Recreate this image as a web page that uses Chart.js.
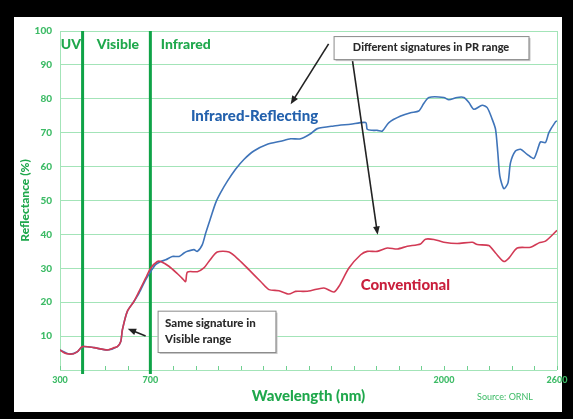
<!DOCTYPE html>
<html lang="en">
<head>
<meta charset="UTF-8">
<title>Reflectance vs wavelength</title>
<script src="https://cdn.jsdelivr.net/npm/chart.js"></script>
<style>
  html, body { margin: 0; padding: 0; background: #000; }
  #wrap { position: relative; width: 573px; height: 419px; overflow: hidden; }
  #paper { position: absolute; left: 14px; top: 17px; width: 548px; height: 395px; background: #fff; }
  #chart { position: absolute; left: 0; top: 0; }
</style>
</head>
<body>
<div id="wrap">
  <div id="paper"></div>
  <canvas id="chart" width="573" height="419"></canvas>
</div>

<script>
// conventional coating (red)
const convWavelength = [300, 320, 340, 360, 377, 399, 450, 510, 540, 554, 569, 576, 598, 627, 650, 679, 702, 731, 746, 782, 820, 840, 856, 864, 908, 937, 959, 996, 1048, 1092, 1136, 1188, 1225, 1269, 1313, 1343, 1377, 1409, 1468, 1512, 1535, 1579, 1631, 1660, 1704, 1749, 1793, 1837, 1896, 1918, 1955, 1999, 2058, 2125, 2147, 2198, 2228, 2265, 2287, 2324, 2383, 2420, 2449, 2500];
const convReflect    = [5.9, 5.0, 4.7, 4.8, 5.4, 6.9, 6.6, 5.9, 6.6, 6.9, 8.4, 11.8, 17.3, 20.2, 23.2, 27.1, 30.1, 32.0, 32.0, 30.6, 28.4, 27.1, 26.1, 28.9, 29.0, 30.1, 32.0, 34.8, 34.8, 32.5, 29.6, 26.1, 23.7, 23.4, 22.4, 23.2, 23.2, 23.4, 24.2, 23.0, 24.7, 30.1, 34.0, 35.0, 35.0, 36.0, 35.7, 36.5, 37.2, 38.6, 38.5, 37.7, 37.3, 37.7, 37.0, 36.7, 34.5, 32.0, 33.0, 36.0, 36.2, 37.5, 38.0, 41.2];

// infrared-reflecting coating (blue)
const irWavelength = [300, 340, 377, 399, 450, 510, 554, 569, 576, 598, 627, 650, 679, 702, 723, 746, 768, 797, 827, 849, 864, 893, 908, 930, 945, 967, 989, 1011, 1041, 1077, 1114, 1158, 1218, 1277, 1321, 1365, 1409, 1439, 1512, 1586, 1653, 1660, 1682, 1704, 1727, 1756, 1808, 1852, 1888, 1910, 1933, 1999, 2021, 2058, 2088, 2110, 2132, 2169, 2191, 2213, 2228, 2238, 2247, 2265, 2283, 2294, 2316, 2339, 2368, 2397, 2412, 2427, 2449, 2464, 2493, 2500];
const irReflect    = [5.9, 4.7, 5.4, 6.9, 6.6, 5.9, 6.9, 8.4, 11.8, 17.3, 20.2, 22.7, 26.6, 29.1, 31.1, 32.0, 32.5, 33.5, 33.5, 34.5, 35.0, 35.5, 35.0, 37.0, 40.4, 44.9, 49.3, 52.3, 55.7, 59.2, 62.1, 64.6, 66.6, 67.5, 68.2, 68.2, 69.7, 71.2, 72.0, 72.5, 73.0, 71.0, 70.7, 70.7, 70.5, 73.0, 74.9, 75.9, 76.4, 78.6, 80.4, 80.4, 79.7, 80.4, 80.4, 78.9, 76.9, 78.1, 77.4, 74.0, 71.0, 64.1, 57.2, 53.5, 55.2, 61.1, 64.6, 65.1, 63.6, 62.4, 64.6, 67.3, 67.1, 70.0, 73.2, 73.5];

const xTickValues = [300, 700, 2000, 2500];
const xTickLabels = ['300', '700', '2000', '2600'];
const bandEdges = [400, 700];
const bandNames = ['UV', 'Visible', 'Infrared'];

const GREEN = '#1fa84c';
const GREEN_LINE = '#0fa347';
const GRID = '#a3e4b8';
const BLUE = '#3f74b9';
const RED = '#d23a55';
const FONT = 'Lato, "Open Sans", sans-serif';

function arrow(ctx, x1, y1, x2, y2) {
  const ang = Math.atan2(y2 - y1, x2 - x1);
  ctx.strokeStyle = '#222';
  ctx.fillStyle = '#222';
  ctx.lineWidth = 1.6;
  ctx.beginPath();
  ctx.moveTo(x1, y1);
  ctx.lineTo(x2 - 6 * Math.cos(ang), y2 - 6 * Math.sin(ang));
  ctx.stroke();
  ctx.beginPath();
  ctx.moveTo(x2, y2);
  ctx.lineTo(x2 - 9 * Math.cos(ang - 0.38), y2 - 9 * Math.sin(ang - 0.38));
  ctx.lineTo(x2 - 9 * Math.cos(ang + 0.38), y2 - 9 * Math.sin(ang + 0.38));
  ctx.closePath();
  ctx.fill();
}

function noteBox(ctx, l, t, r, b) {
  ctx.fillStyle = '#c8c8c8';
  ctx.fillRect(l + 2, t + 2, r - l, b - t);
  ctx.fillStyle = '#fff';
  ctx.fillRect(l, t, r - l, b - t);
  ctx.strokeStyle = '#8a8a8a';
  ctx.lineWidth = 1;
  ctx.strokeRect(l + 0.5, t + 0.5, r - l, b - t);
}

const overlay = {
  id: 'overlay',
  beforeDatasetsDraw(chart) {
    const { ctx, chartArea: a, scales: { x, y } } = chart;
    ctx.save();
    // right frame line
    ctx.strokeStyle = GRID;
    ctx.lineWidth = 1;
    ctx.beginPath();
    ctx.moveTo(a.right + 0.5, a.top);
    ctx.lineTo(a.right + 0.5, a.bottom);
    ctx.stroke();
    // small inward ticks every 100 nm
    ctx.strokeStyle = '#6fd090';
    for (let v = 300; v <= 2500; v += 100) {
      const px = Math.round(x.getPixelForValue(v)) + 0.5;
      ctx.beginPath();
      ctx.moveTo(px, a.bottom);
      ctx.lineTo(px, a.bottom - 4);
      ctx.stroke();
    }
    // band boundaries
    ctx.strokeStyle = GREEN_LINE;
    ctx.lineWidth = 3;
    bandEdges.forEach(v => {
      const px = x.getPixelForValue(v);
      ctx.beginPath();
      ctx.moveTo(px, a.top);
      ctx.lineTo(px, a.bottom + 4);
      ctx.stroke();
    });
    // band names
    ctx.fillStyle = GREEN;
    ctx.font = '900 14px ' + FONT;
    ctx.textBaseline = 'middle';
    ctx.textAlign = 'center';
    const centers = [348, 556, 857];
    bandNames.forEach((n, i) => ctx.fillText(n, x.getPixelForValue(centers[i]), y.getPixelForValue(96)));
    ctx.restore();
  },
  afterDatasetsDraw(chart) {
    const { ctx, chartArea: a, scales: { x, y } } = chart;
    const X = v => x.getPixelForValue(v);
    const Y = v => y.getPixelForValue(v);
    ctx.save();

    // series labels
    ctx.font = '900 15px ' + FONT;
    ctx.textAlign = 'center';
    ctx.textBaseline = 'middle';
    ctx.fillStyle = '#2361ad';
    ctx.fillText('Infrared-Reflecting', X(1161), Y(74.9));
    ctx.fillStyle = '#c91f3c';
    ctx.fillText('Conventional', X(1829), Y(25.1));

    // top note
    noteBox(ctx, X(1511), Y(98.5), X(2374), Y(91.7));
    ctx.fillStyle = '#2a2a2a';
    ctx.font = '900 11px ' + FONT;
    ctx.fillText('Different signatures in PR range', (X(1511) + X(2374)) / 2, Y(95.1));
    arrow(ctx, X(1489), Y(96.2), X(1321), Y(78.4));
    arrow(ctx, X(1595), Y(91.1), X(1706), Y(39.9));

    // bottom note
    noteBox(ctx, X(732), Y(17.5), X(1254), Y(5.3));
    ctx.fillStyle = '#2a2a2a';
    ctx.font = '900 11.5px ' + FONT;
    ctx.textAlign = 'left';
    ctx.fillText('Same signature in', X(765), Y(13.8));
    ctx.fillText('Visible range', X(765), Y(9.1));
    arrow(ctx, X(679), Y(10.0), X(600), Y(12.2));

    // source
    ctx.fillStyle = '#3dbb66';
    ctx.font = '9px ' + FONT;
    ctx.textAlign = 'center';
    ctx.fillText('Source: ORNL', a.right - 52, a.bottom + 27);
    ctx.restore();
  }
};

new Chart(document.getElementById('chart'), {
  type: 'line',
  data: {
    datasets: [
      {
        label: 'Conventional',
        data: convWavelength.map((w, i) => ({ x: w, y: convReflect[i] })),
        borderColor: RED,
        borderWidth: 1.6,
        pointRadius: 0,
        tension: 0.25,
        order: 0
      },
      {
        label: 'Infrared-Reflecting',
        data: irWavelength.map((w, i) => ({ x: w, y: irReflect[i] })),
        borderColor: BLUE,
        borderWidth: 1.6,
        pointRadius: 0,
        tension: 0.25,
        order: 1
      }
    ]
  },
  options: {
    responsive: false,
    animation: false,
    layout: { padding: { left: 0, top: 31, right: 16, bottom: 0 } },
    plugins: { legend: { display: false }, tooltip: { enabled: false } },
    scales: {
      x: {
        type: 'linear',
        min: 300,
        max: 2500,
        afterBuildTicks: s => { s.ticks = xTickValues.map(v => ({ value: v })); },
        afterFit: s => { s.height = 49; },
        grid: { display: false, drawTicks: false },
        border: { display: false },
        ticks: {
          autoSkip: false,
          maxRotation: 0,
          padding: 5,
          color: '#3dbb66',
          font: { family: FONT, size: 9, weight: '900' },
          callback: v => xTickLabels[xTickValues.indexOf(v)]
        },
        title: {
          display: true,
          text: 'Wavelength (nm)',
          color: GREEN,
          font: { family: FONT, size: 15, weight: '900' },
          padding: { top: 0, bottom: 14 }
        }
      },
      y: {
        min: 0,
        max: 100,
        afterFit: s => { s.width = 60; },
        grid: { color: GRID, lineWidth: 1, drawTicks: false },
        border: { display: true, color: GRID },
        ticks: {
          stepSize: 10,
          padding: 8,
          color: '#3dbb66',
          font: { family: FONT, size: 10, weight: '900' },
          callback: v => (v === 0 ? '' : v)
        },
        title: {
          display: true,
          text: 'Reflectance (%)',
          color: GREEN,
          font: { family: FONT, size: 12, weight: '900' },
          padding: { top: 18, bottom: 0 }
        }
      }
    }
  },
  plugins: [overlay]
});
</script>
</body>
</html>
